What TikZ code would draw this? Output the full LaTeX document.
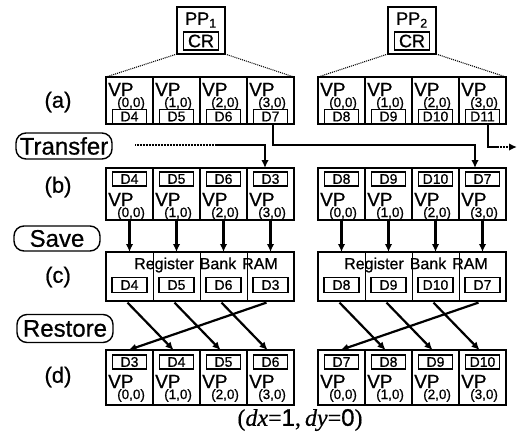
\documentclass[tikz,border=0pt]{standalone}
\usepackage{fontspec}
\setmainfont{Liberation Sans}[FakeBold=0.7]
\newfontfamily\tms{Liberation Serif}[FakeBold=0.5]
\usetikzlibrary{arrows.meta,calc}
\tikzset{
 cell/.style={draw, line width=1.3pt, minimum width=47pt, inner sep=0pt, outer sep=0pt},
 dbox/.style={draw, line width=1.2pt, minimum width=34pt, minimum height=14pt, inner sep=0pt, font=\fontsize{14}{14}\selectfont},
 vptext/.style={inner sep=0pt, anchor=base west, font=\fontsize{19}{19}\selectfont},
 subtext/.style={inner sep=0pt, anchor=base west, font=\fontsize{13.5}{13.5}\selectfont},
 rowlab/.style={inner sep=0pt, font=\fontsize{22}{22}\selectfont},
 pill/.style={draw, line width=1.4pt, rounded corners=10pt, inner sep=0pt, font=\fontsize{24}{24}\selectfont},
 arr/.style={line width=2.2pt, -{Latex[length=8pt,width=7.5pt]}},
 dotline/.style={line width=1.1pt, dash pattern=on 1pt off 1pt},
 hatch/.style={line width=2.4pt, dash pattern=on 0.8pt off 0.7pt},
 divider/.style={line width=0.6pt},
 rbtext/.style={inner sep=0pt, font=\fontsize{16}{16}\selectfont},
}
\begin{document}
\begin{tikzpicture}[x=1pt,y=-1pt]
\useasboundingbox (0,0) rectangle (519,437);
% PP boxes
\node[cell, minimum width=48pt, minimum height=47pt] (ppL) at (201,30.5) {};
\node[inner sep=0pt, font=\fontsize{18}{18}\selectfont] (ppLt) at (201,20) {PP\textsubscript{1}};
\node[dbox, minimum width=35pt, minimum height=18pt, font=\fontsize{18}{18}\selectfont] (crL) at (201,41) {CR};
\node[cell, minimum width=48pt, minimum height=47pt] (ppR) at (412,30.5) {};
\node[inner sep=0pt, font=\fontsize{18}{18}\selectfont] (ppRt) at (412,20) {PP\textsubscript{2}};
\node[dbox, minimum width=35pt, minimum height=18pt, font=\fontsize{18}{18}\selectfont] (crR) at (412,41) {CR};
% row c outer boxes
\node[cell, minimum width=188pt, minimum height=49pt] (cL) at (200,276.5) {};
\node[cell, minimum width=188pt, minimum height=49pt] (cR) at (412,276.5) {};
\node[rbtext] (rbL) at (206,265) {Register\hspace{6pt}Bank\hspace{6pt}RAM};
\node[rbtext] (rbR) at (416,265) {Register\hspace{6pt}Bank\hspace{6pt}RAM};
% cells
\foreach \g/\gx/\i/\da/\db/\dd in {L/106/0/D4/D4/D3, L/106/1/D5/D5/D4, L/106/2/D6/D6/D5, L/106/3/D7/D3/D6, R/318/0/D8/D8/D7, R/318/1/D9/D9/D8, R/318/2/D10/D10/D9, R/318/3/D11/D7/D10}{
 \pgfmathsetmacro\xl{\gx+47*\i}
 \pgfmathsetmacro\cx{\xl+23.5}
 % row a
 \node[cell, minimum height=47pt] (a\g\i) at (\cx,100.5) {};
 \node[dbox] (da\g\i) at (\cx,116.5) {\da};
 \node[vptext] (va\g\i) at (\xl+2,96) {VP};
 \node[subtext] (sa\g\i) at (\xl+11,107) {(\i,0)};
 % row b
 \node[cell, minimum height=52pt] (b\g\i) at (\cx,194) {};
 \node[dbox] (db\g\i) at (\cx,179) {\db};
 \node[vptext] (vb\g\i) at (\xl+2,206) {VP};
 \node[subtext] (sb\g\i) at (\xl+11,217) {(\i,0)};
 % row c
 \node[dbox, minimum width=35pt, minimum height=15pt] (dc\g\i) at (\cx,285) {\db};
 \ifnum\i>0 \draw[divider] (\xl,252) -- (\xl,301); \fi
 % row d
 \node[cell, minimum height=55pt] (d\g\i) at (\cx,377.5) {};
 \node[dbox] (dd\g\i) at (\cx,362) {\dd};
 \node[vptext] (vd\g\i) at (\xl+2,388) {VP};
 \node[subtext] (sd\g\i) at (\xl+11,399) {(\i,0)};
}
% dotted fans
\draw[dotline] (ppL.south west) -- (aL0.north west);
\draw[dotline] (ppL.south east) -- (aL3.north east);
\draw[dotline] (ppR.south west) -- (aR0.north west);
\draw[dotline] (ppR.south east) -- (aR3.north east);
% save and restore arrows
\foreach \g in {L,R}{
 \foreach \i in {0,1,2,3}{
  \draw[arr] (b\g\i.south) -- (b\g\i.south |- c\g.north);
 }
 \foreach \i/\j in {0/1,1/2,2/3}{
  \draw[arr] ($(dc\g\i.south)+(-2,9.5)$) -- ($(d\g\j.north)+(-3,0)$);
 }
 \draw[arr] ($(dc\g3.south)+(-4,9.5)$) -- ($(d\g0.north)+(-1,0)$);
}
% transfer
\coordinate (tin) at (135,145);
\coordinate (tmid) at (215,145);
\draw[hatch] (tin) -- (tmid);
\draw[arr] (tmid) -| ($(bL3.north)+(-5.5,0)$);
\draw[arr] ($(aL3.south)+(2.5,0)$) -- ++(0,21) -| ($(bR3.north)+(-7.5,0)$);
\coordinate (d11a) at ($(aR3.south)+(5.5,23)$);
\coordinate (d11b) at ($(d11a)+(10,0)$);
\coordinate (tout) at (517,147);
\draw[line width=2.2pt] ($(aR3.south)+(5.5,0)$) -- (d11a) -- (d11b);
\draw[hatch, -{Latex[length=8pt,width=7.5pt]}] (d11b) -- (tout);
% row labels
\node[rowlab] (la) at (58,102) {(a)};
\node[rowlab] (lb) at (58,187) {(b)};
\node[rowlab] (lc) at (58,277) {(c)};
\node[rowlab] (ld) at (58,377) {(d)};
% pills
\node[pill, minimum width=96pt, minimum height=26pt] (transfer) at (64,146) {Transfer};
\node[pill, minimum width=86pt, minimum height=25pt] (save) at (57,238.5) {Save};
\node[pill, minimum width=96pt, minimum height=28pt] (restore) at (65,328.5) {Restore};
% bottom
\node[inner sep=0pt, font=\fontsize{24}{24}\selectfont] (eq) at (300,420) {{\tms(\textit{dx}=}1{\tms,\,\textit{dy}=}0{\tms)}};
\end{tikzpicture}
\end{document}
